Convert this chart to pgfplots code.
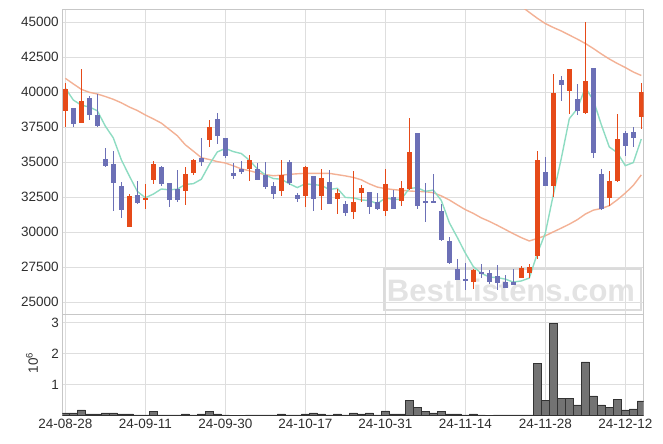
\documentclass[border=0pt]{standalone}
\usepackage{pgfplots}
\pgfplotsset{compat=1.18}
\usepackage{pgfplotstable}
\usepackage{fontspec}
\setmainfont{Liberation Sans}
\definecolor{cred}{HTML}{E64A19}
\definecolor{cblue}{HTML}{6C70B6}
\definecolor{cgreen}{HTML}{8EDCC2}
\definecolor{corange}{HTML}{F2A98A}

\pgfplotstableread{
x o h l c
0 38690 40640 37500 40240
2 37830 41700 37800 39400
8 30380 32720 30350 32600
10 32280 33420 31670 32450
11 33750 35100 33480 34870
15 32970 34640 31920 34150
16 34200 35240 34120 35130
18 36620 38000 36100 37520
23 34550 35520 33640 35160
27 32970 35140 32590 34090
30 32570 34700 31790 34660
32 32610 34500 31590 33860
34 32400 33100 31290 32790
36 31430 34400 30950 32170
37 32840 33400 32190 33140
40 31550 34550 31170 33450
42 32210 33690 31860 33140
43 33100 38140 33020 35740
51 26430 27350 25930 27310
57 26760 27600 26750 27450
58 27110 27740 26760 27500
59 28300 35780 28100 35160
61 33290 41290 32550 39960
63 40060 41700 38440 41670
65 38490 45000 38450 40790
68 32460 34380 31910 33690
69 33650 38450 33570 36690
72 38210 40650 37380 40040
}\redtab

\pgfplotstableread{
x o h l c
1 38880 38900 37500 37760
3 39600 39750 38000 38400
4 38380 39860 37550 37620
5 35270 36000 34650 34750
6 34880 35800 31500 33550
7 33300 33590 31050 31620
9 32640 33640 32000 32100
12 34680 34700 33330 33450
13 33520 33550 31800 32300
14 33080 34480 32170 32330
17 35320 36710 34740 35030
19 38090 38500 36290 36860
20 36740 36750 35300 35420
21 34240 34970 33790 34000
22 34520 35070 34160 34330
24 34520 34970 33700 33740
25 34090 35040 33070 33260
26 33330 33600 32360 32710
28 35020 35160 33380 33540
29 32640 32830 32190 32360
31 34000 34050 31540 32360
33 33590 34450 32000 32040
35 32000 32260 31150 31410
38 32860 32880 31290 31830
39 32190 32790 31600 31670
41 32500 33020 31650 31690
44 37070 37100 31640 31900
45 32200 33500 30710 32150
46 32200 34140 32070 32160
47 31520 32000 29400 29430
48 29380 29690 27750 27810
49 27400 28090 26600 26620
50 26660 27790 25880 26580
52 27140 27710 26740 27050
53 27090 27310 26310 26470
54 26880 27640 25880 26400
55 26450 26930 26000 26040
56 26450 27400 26200 26260
60 34330 35360 33290 33290
62 40870 41200 39370 40490
64 39510 40580 38350 38700
66 41720 41750 35300 35640
67 34150 34500 31600 31640
70 37090 37260 35430 36140
71 37160 37500 36070 36740
}\bluetab

\pgfplotstableread{
x y
0 40300
1 39450
2 39080
3 38950
4 38684
5 37586
6 36744
7 35188
8 34028
9 32924
10 32464
11 32728
12 33094
13 33034
14 33080
15 33420
16 33472
17 33788
18 34832
19 35738
20 35992
21 35766
22 35626
23 35154
24 34530
25 34098
26 33840
27 33792
28 33468
29 33192
30 33472
31 33402
32 33356
33 33056
34 33142
35 32492
36 32454
37 32310
38 32268
39 32044
40 32452
41 32356
42 32356
43 33138
44 33184
45 32924
46 33018
47 32276
48 30690
49 29634
50 28520
51 27550
52 27074
53 26806
54 26762
55 26654
56 26444
57 26524
58 26730
59 28482
60 29932
61 32672
62 35280
63 38114
64 38822
65 40322
66 39458
67 37688
68 36092
69 35690
70 34760
71 34980
72 36660
}\greentab

\pgfplotstableread{
x y
0 41000
1 40600
2 40214
3 40000
4 39880
5 39700
6 39500
7 39250
8 38950
9 38700
10 38380
11 38100
12 37800
13 37350
14 36900
15 36250
16 35800
17 35330
18 35200
19 35050
20 34950
21 34750
22 34530
23 34400
24 34250
25 34120
26 34040
27 34080
28 34140
29 34180
30 34210
31 34210
32 34210
33 34210
34 34120
35 34030
36 33920
37 33750
38 33460
39 33230
40 33120
41 33050
42 33000
43 32950
44 32920
45 32900
46 32830
47 32600
48 32310
49 31960
50 31620
51 31350
52 31030
53 30780
54 30500
55 30200
56 29900
57 29620
58 29380
59 29560
60 29750
61 30030
62 30300
63 30580
64 30900
65 31300
66 31580
67 31700
68 31900
69 32320
70 32800
71 33350
72 34100
}\orangetab

\pgfplotstableread{
x y
56 46900
57 46150
58 45710
59 45290
60 44910
61 44630
62 44380
63 44090
64 43800
65 43490
66 43130
67 42740
68 42380
69 42060
70 41770
71 41450
72 41200
}\uppertab

\pgfplotstableread{
x v
0 0.086
1 0.086
2 0.18
3 0.054
4 0.054
5 0.086
6 0.086
7 0.054
8 0.054
9 0.02
10 0.02
11 0.12
12 0.02
13 0.02
14 0.02
15 0.054
16 0.02
17 0.054
18 0.12
19 0.054
20 0.02
21 0.01
22 0.005
23 0.02
24 0.02
25 0.02
26 0.02
27 0.054
28 0.02
29 0.02
30 0.054
31 0.086
32 0.054
33 0.02
34 0.054
35 0.02
36 0.086
37 0.054
38 0.086
39 0.02
40 0.15
41 0.054
42 0.054
43 0.48
44 0.25
45 0.12
46 0.086
47 0.12
48 0.054
49 0.054
50 0.02
51 0.054
52 0.02
53 0.005
54 0.02
55 0.02
56 0.02
57 0.02
58 0.02
59 1.67
60 0.48
61 2.96
62 0.54
63 0.54
64 0.34
65 1.73
66 0.63
67 0.34
68 0.25
69 0.51
70 0.18
71 0.21
72 0.47
}\voltab

\pgfplotsset{
  myaxis/.style={
    scale only axis,
    width=581.4pt,
    xmin=-0.375, xmax=72.3,
    xtick={0,10,...,70},
    grid=major,
    grid style={black!13, line width=0.8pt},
    axis line style={black!22, line width=0.8pt},
    major tick length=0pt,
    tick label style={font=\fontsize{13.5}{16}\selectfont, text=black!82},
    /pgf/number format/assume math mode=true,
    /pgf/number format/1000 sep={},
    scaled y ticks=false,
  },
  wick/.style={draw=none, mark=none, forget plot,
    error bars/.cd, y dir=both, y explicit, error mark=none,
    error bar style={draw=#1, line width=1.3pt}},
  body/.style={draw=none, mark=none, forget plot,
    error bars/.cd, y dir=both, y explicit, error mark=none,
    error bar style={draw=#1, line width=5.3pt}},
}

\begin{document}
\begin{tikzpicture}
% watermark (drawn first, below everything); origin = lower left of the price axis
\draw[black!14, line width=2.5pt] (321.7pt,45.5pt) rectangle (578.7pt,4pt);
\node[font=\fontsize{31}{31}\selectfont\bfseries, text=black!11, inner sep=0pt] at (448.7pt,24pt) {BestListens.com};

\begin{axis}[myaxis, name=top,
  at={(0pt,0pt)}, anchor=south west,
  height=304.7pt,
  ymin=24164, ymax=45929,
  ytick={25000,27500,...,45000},
  xticklabels={},
]
\addplot[corange, line width=1.4pt, opacity=0.9] table[x=x,y=y] {\orangetab};
\addplot[corange, line width=1.4pt, opacity=0.9] table[x=x,y=y] {\uppertab};
\addplot[cgreen, line width=1.4pt] table[x=x,y=y] {\greentab};
\addplot[wick=cred]
  table[x=x, y expr=(\thisrow{h}+\thisrow{l})/2, y error expr=(\thisrow{h}-\thisrow{l})/2] {\redtab};
\addplot[wick=cblue]
  table[x=x, y expr=(\thisrow{h}+\thisrow{l})/2, y error expr=(\thisrow{h}-\thisrow{l})/2] {\bluetab};
\addplot[body=cred]
  table[x=x, y expr=(\thisrow{o}+\thisrow{c})/2, y error expr={max(abs(\thisrow{c}-\thisrow{o})/2,70)}] {\redtab};
\addplot[body=cblue]
  table[x=x, y expr=(\thisrow{o}+\thisrow{c})/2, y error expr={max(abs(\thisrow{c}-\thisrow{o})/2,70)}] {\bluetab};
\end{axis}

\begin{axis}[myaxis, name=bot,
  at={(top.south west)}, anchor=north west,
  height=101.5pt,
  ymin=0, ymax=3.274,
  ytick={1,2,3},
  xticklabels={24-08-28,24-09-11,24-09-30,24-10-17,24-10-31,24-11-14,24-11-28,24-12-12},
  ylabel={10\textsuperscript{6}},
  ylabel style={font=\fontsize{13.5}{15}\selectfont, text=black!82, at={(axis description cs:-0.052,0.52)}, anchor=center},
]
\addplot[ybar, bar width=1, fill=black!55, draw=black!80, line width=0.6pt] table[x=x,y=v] {\voltab};
\end{axis}
\useasboundingbox ([shift={(-62.3pt,9.3pt)}]top.north west) rectangle ([shift={(19.3pt,-28.5pt)}]bot.south east);
\end{tikzpicture}
\end{document}
